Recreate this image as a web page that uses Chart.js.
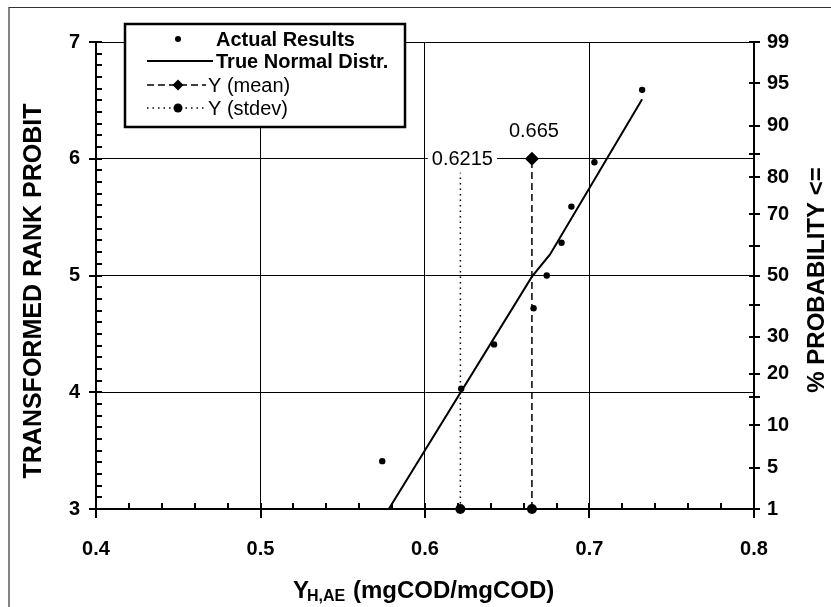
<!DOCTYPE html>
<html>
<head>
<meta charset="utf-8">
<script src="https://cdn.jsdelivr.net/npm/chart.js@4.4.1/dist/chart.umd.min.js"></script>
<style>
  html, body { margin: 0; padding: 0; background: #fff; }
  canvas { display: block; }
</style>
</head>
<body>
<canvas id="c" width="831" height="607"></canvas>
<script>
// Rank-probit plot of the aerobic heterotrophic yield estimates
const actualYield   = [0.574, 0.622, 0.642, 0.666, 0.674, 0.683, 0.689, 0.703, 0.732];
const actualProbit  = [3.41, 4.03, 4.41, 4.72, 5.00, 5.28, 5.59, 5.97, 6.59];
const normalYield   = [0.578, 0.665, 0.676, 0.732];
const normalProbit  = [3.00, 4.99, 5.18, 6.51];
const meanYield     = [0.665, 0.665];
const meanProbit    = [3, 6];
const stdevYield    = [0.6215, 0.6215];
const stdevProbit   = [3, 6];

const xTicks        = [0.4, 0.5, 0.6, 0.7, 0.8];
const probitTicks   = [3, 4, 5, 6, 7];
const probTicks     = [1, 5, 10, 15, 20, 30, 40, 50, 60, 70, 80, 85, 90, 95, 99];
const probLabels    = [1, 5, 10, 20, 30, 50, 70, 80, 90, 95, 99];

const FONT = "'Liberation Sans', Arial, Helvetica, sans-serif";
Chart.defaults.font.family = FONT;
Chart.defaults.color = '#000';

// inverse standard normal CDF (Acklam), used to place the % probability ticks
function normInv(p) {
  const a = [-3.969683028665376e+01, 2.209460984245205e+02, -2.759285104469687e+02, 1.383577518672690e+02, -3.066479806614716e+01, 2.506628277459239e+00];
  const b = [-5.447609879822406e+01, 1.615858368580409e+02, -1.556989798598866e+02, 6.680131188771972e+01, -1.328068155288572e+01];
  const c = [-7.784894002430293e-03, -3.223964580411365e-01, -2.400758277161838e+00, -2.549732539343734e+00, 4.374664141464968e+00, 2.938163982698783e+00];
  const d = [7.784695709041462e-03, 3.224671290700398e-01, 2.445134137142996e+00, 3.754408661907416e+00];
  const pl = 0.02425, ph = 1 - pl;
  let q, r;
  if (p < pl) {
    q = Math.sqrt(-2 * Math.log(p));
    return (((((c[0]*q+c[1])*q+c[2])*q+c[3])*q+c[4])*q+c[5]) / ((((d[0]*q+d[1])*q+d[2])*q+d[3])*q+1);
  }
  if (p <= ph) {
    q = p - 0.5; r = q * q;
    return (((((a[0]*r+a[1])*r+a[2])*r+a[3])*r+a[4])*r+a[5])*q / (((((b[0]*r+b[1])*r+b[2])*r+b[3])*r+b[4])*r+1);
  }
  q = Math.sqrt(-2 * Math.log(1 - p));
  return -(((((c[0]*q+c[1])*q+c[2])*q+c[3])*q+c[4])*q+c[5]) / ((((d[0]*q+d[1])*q+d[2])*q+d[3])*q+1);
}
const probit = pct => Math.min(7, Math.max(3, 5 + normInv(pct / 100)));

const toPts = (xs, ys) => xs.map((x, i) => ({ x, y: ys[i] }));

function drawMarker(ctx, style, x, y, r) {
  ctx.beginPath();
  if (style === 'rectRot') {
    ctx.moveTo(x, y - r); ctx.lineTo(x + r, y); ctx.lineTo(x, y + r); ctx.lineTo(x - r, y);
    ctx.closePath();
  } else {
    ctx.arc(x, y, r, 0, Math.PI * 2);
  }
  ctx.fill();
}

// tick marks, value labels, legend box, axis titles and the page frame
const decorations = {
  id: 'decorations',
  afterDatasetsDraw(chart) {
    const ctx = chart.ctx;
    const { x, y, y2 } = chart.scales;
    const area = chart.chartArea;
    ctx.save();
    ctx.strokeStyle = '#000';
    ctx.lineWidth = 2;
    ctx.beginPath();
    // x axis: major ticks cross the axis, minor ticks every 0.02 point inward
    for (const v of xTicks) {
      const px = Math.round(x.getPixelForValue(v));
      ctx.moveTo(px, area.bottom - 5); ctx.lineTo(px, area.bottom + 9);
    }
    for (let k = 0; k <= 20; k++) {
      const v = x.min + k * 0.02;
      const px = Math.round(x.getPixelForValue(v));
      ctx.moveTo(px, area.bottom); ctx.lineTo(px, area.bottom - 6);
    }
    // left axis: major ticks outward, minor ticks every 0.1 inward
    for (const v of probitTicks) {
      const py = Math.round(y.getPixelForValue(v));
      ctx.moveTo(area.left - 7, py); ctx.lineTo(area.left, py);
    }
    for (let k = 0; k <= 40; k++) {
      const v = y.min + k * 0.1;
      const py = Math.round(y.getPixelForValue(v));
      ctx.moveTo(area.left, py); ctx.lineTo(area.left + 6, py);
    }
    // right axis: probability ticks crossing the axis
    for (const t of y2.ticks) {
      const py = Math.round(y2.getPixelForValue(t.value));
      ctx.moveTo(area.right - 5, py); ctx.lineTo(area.right + 6, py);
    }
    ctx.stroke();

    // value labels of the mean and standard deviation lines
    ctx.font = '20px ' + FONT;
    ctx.fillStyle = '#000';
    ctx.textAlign = 'center';
    const sx = x.getPixelForValue(stdevYield[1]) + 2;
    const sy = y.getPixelForValue(stdevProbit[1]);
    const sText = String(stdevYield[1]);
    const sw = ctx.measureText(sText).width;
    ctx.fillStyle = '#fff';
    ctx.fillRect(sx - sw / 2 - 4, sy - 14, sw + 8, 28);
    ctx.fillStyle = '#000';
    ctx.textBaseline = 'middle';
    ctx.fillText(sText, sx, sy + 1);
    const mx = x.getPixelForValue(meanYield[1]) + 2;
    const my = y.getPixelForValue(meanProbit[1]);
    ctx.textBaseline = 'alphabetic';
    ctx.fillText(String(meanYield[1]), mx, my - 22);
    ctx.restore();
  },
  afterDraw(chart) {
    const ctx = chart.ctx;
    const ds = chart.data.datasets;
    ctx.save();

    // legend box
    const L = 125, T = 24, R = 405, B = 127;
    ctx.fillStyle = '#fff';
    ctx.fillRect(L, T, R - L, B - T);
    ctx.strokeStyle = '#000';
    ctx.lineWidth = 2.5;
    ctx.strokeRect(L, T, R - L, B - T);

    const rows = [
      { ds: ds[0], y: 39, bold: true, tx: 216, x0: 0, x1: 0, marker: 'circle', r: 3 },
      { ds: ds[1], y: 61, bold: true, tx: 216, x0: 147, x1: 213 },
      { ds: ds[2], y: 85, bold: false, tx: 208, x0: 147, x1: 206, marker: 'rectRot', r: 5.5 },
      { ds: ds[3], y: 108, bold: false, tx: 208, x0: 147, x1: 206, marker: 'circle', r: 4.5 }
    ];
    ctx.fillStyle = '#000';
    for (const row of rows) {
      if (row.x1 > row.x0) {
        ctx.beginPath();
        ctx.setLineDash(row.ds.borderDash || []);
        ctx.lineWidth = row.ds.borderWidth;
        ctx.moveTo(row.x0, row.y); ctx.lineTo(row.x1, row.y);
        ctx.stroke();
        ctx.setLineDash([]);
      }
      if (row.marker) drawMarker(ctx, row.marker, 178, row.y, row.r);
      ctx.font = (row.bold ? 'bold 20px ' : '20px ') + FONT;
      ctx.textAlign = 'left';
      ctx.textBaseline = 'middle';
      ctx.fillText(row.ds.label, row.tx, row.y + 1);
    }

    // axis titles
    ctx.textAlign = 'center';
    ctx.textBaseline = 'middle';
    ctx.save();
    ctx.font = 'bold 25px ' + FONT;
    ctx.translate(34, 291);
    ctx.rotate(-Math.PI / 2);
    ctx.fillText('TRANSFORMED RANK PROBIT', 0, 0);
    ctx.restore();
    ctx.save();
    ctx.font = 'bold 24px ' + FONT;
    ctx.translate(817, 280);
    ctx.rotate(-Math.PI / 2);
    ctx.fillText('% PROBABILITY <=', 0, 0);
    ctx.restore();

    // x title with subscript
    ctx.textAlign = 'left';
    ctx.textBaseline = 'alphabetic';
    let cx = 293;
    ctx.font = 'bold 24px ' + FONT;
    ctx.fillText('Y', cx, 598);
    cx += ctx.measureText('Y').width - 2;
    ctx.font = 'bold 16px ' + FONT;
    ctx.fillText('H,AE', cx, 601);
    cx += ctx.measureText('H,AE').width + 1;
    ctx.font = 'bold 24px ' + FONT;
    ctx.fillText(' (mgCOD/mgCOD)', cx, 598);

    // page frame
    ctx.strokeStyle = '#333';
    ctx.lineWidth = 1.2;
    ctx.beginPath();
    ctx.moveTo(9, 607); ctx.lineTo(9, 7.5); ctx.lineTo(831, 7.5);
    ctx.stroke();
    ctx.restore();
  }
};

new Chart(document.getElementById('c'), {
  type: 'scatter',
  data: {
    datasets: [
      {
        label: 'Actual Results',
        data: toPts(actualYield, actualProbit),
        showLine: false,
        pointRadius: 3.2,
        pointBackgroundColor: '#000',
        pointBorderWidth: 0,
        clip: false
      },
      {
        label: 'True Normal Distr.',
        data: toPts(normalYield, normalProbit),
        showLine: true,
        borderColor: '#000',
        borderWidth: 2,
        pointRadius: 0,
        clip: false
      },
      {
        label: 'Y (mean)',
        data: toPts(meanYield, meanProbit),
        showLine: true,
        borderColor: '#000',
        borderWidth: 1.5,
        borderDash: [7, 4],
        pointStyle: ['circle', 'rectRot'],
        pointRadius: [5, 7],
        pointBackgroundColor: '#000',
        pointBorderWidth: 0,
        clip: false
      },
      {
        label: 'Y (stdev)',
        data: toPts(stdevYield, stdevProbit),
        showLine: true,
        borderColor: '#000',
        borderWidth: 1.5,
        borderDash: [1.5, 4],
        pointStyle: 'circle',
        pointRadius: [5, 4],
        pointBackgroundColor: '#000',
        pointBorderWidth: 0,
        clip: false
      }
    ]
  },
  options: {
    responsive: false,
    animation: false,
    devicePixelRatio: 1,
    layout: { padding: { top: 42, left: 0, right: 0, bottom: 0 } },
    plugins: { legend: { display: false }, tooltip: { enabled: false } },
    scales: {
      x: {
        type: 'linear',
        position: 'bottom',
        min: 0.4, max: 0.8,
        afterBuildTicks: s => { s.ticks = xTicks.map(v => ({ value: v })); },
        afterFit: s => { s.height = 98; },
        ticks: { font: { size: 20, weight: 'bold' }, color: '#000', padding: 28, autoSkip: false, maxRotation: 0,
                 callback: v => v.toFixed(1) },
        grid: { color: '#000', lineWidth: 1, drawTicks: false },
        border: { color: '#000', width: 2 }
      },
      y: {
        type: 'linear',
        position: 'left',
        min: 3, max: 7,
        afterBuildTicks: s => { s.ticks = probitTicks.map(v => ({ value: v })); },
        afterFit: s => { s.width = 96; },
        ticks: { font: { size: 20, weight: 'bold' }, color: '#000', padding: 16, autoSkip: false },
        grid: { color: '#000', lineWidth: 1, drawTicks: false },
        border: { color: '#000', width: 2 }
      },
      y2: {
        type: 'linear',
        position: 'right',
        min: 3, max: 7,
        afterBuildTicks: s => { s.ticks = probTicks.map(p => ({ value: probit(p) })); },
        afterFit: s => { s.width = 77; },
        ticks: { font: { size: 20, weight: 'bold' }, color: '#000', padding: 13, autoSkip: false,
                 callback: (v, i) => probLabels.includes(probTicks[i]) ? String(probTicks[i]) : '' },
        grid: { display: false, drawTicks: false },
        border: { color: '#000', width: 2 }
      }
    }
  },
  plugins: [decorations]
});
</script>
</body>
</html>
